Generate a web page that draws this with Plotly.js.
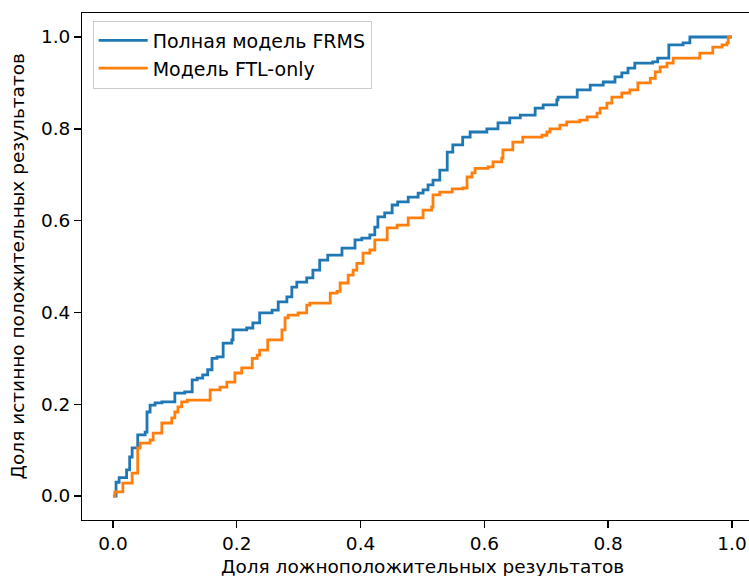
<!DOCTYPE html>
<html>
<head>
<meta charset="utf-8">
<script src="https://cdn.plot.ly/plotly-3.0.1.min.js"></script>
<style>html,body{margin:0;padding:0;background:#fff;overflow:hidden}</style>
</head>
<body>
<div id="chart" style="width:749px;height:576px"></div>
<script>
// ROC curve, full FRMS model (top of each vertical rise)
const fprFull = [0.000,0.005,0.010,0.022,0.027,0.031,0.040,0.052,0.055,0.060,0.068,0.079,0.100,0.116,0.128,0.136,0.145,0.153,
  0.160,0.168,0.178,0.192,0.194,0.216,0.226,0.237,0.257,0.267,0.281,0.289,0.297,0.313,0.323,
  0.334,0.347,0.370,0.391,0.402,0.415,0.423,0.428,0.439,0.451,0.460,0.477,0.493,0.501,0.509,0.517,
  0.528,0.540,0.549,0.565,0.577,0.604,0.622,0.641,0.658,0.682,0.695,0.717,0.719,0.750,0.771,0.792,
  0.811,0.822,0.832,0.843,0.872,0.880,0.898,0.921,0.932,1.000];
const tprFull = [0.000,0.030,0.040,0.057,0.085,0.105,0.133,0.139,0.183,0.198,0.203,0.205,0.224,0.227,0.253,0.257,0.264,0.275,
  0.300,0.303,0.333,0.340,0.362,0.366,0.377,0.399,0.405,0.423,0.434,0.455,0.466,0.475,0.492,
  0.514,0.525,0.540,0.558,0.562,0.569,0.586,0.608,0.617,0.634,0.641,0.651,0.660,0.667,0.678,0.688,
  0.710,0.749,0.765,0.782,0.793,0.800,0.813,0.824,0.830,0.845,0.852,0.863,0.869,0.885,0.895,0.902,
  0.913,0.922,0.932,0.943,0.946,0.954,0.983,0.987,1.000,1.000];

// ROC curve, FTL-only model
const fprFtl = [0.000,0.003,0.016,0.031,0.040,0.044,0.060,0.065,0.079,0.095,0.100,0.105,0.111,0.120,0.157,0.173,0.184,0.197,
  0.208,0.225,0.233,0.237,0.250,0.273,0.278,0.283,0.299,0.313,0.318,0.351,0.362,0.367,0.380,0.388,0.394,
  0.404,0.415,0.423,0.443,0.459,0.477,0.501,0.515,0.517,0.528,0.548,0.565,0.572,0.580,0.585,0.606,0.614,
  0.628,0.630,0.646,0.662,0.693,0.701,0.706,0.722,0.733,0.754,0.766,0.782,0.787,0.798,0.806,0.822,0.835,
  0.848,0.868,0.876,0.884,0.895,0.905,0.948,0.969,0.984,0.992,0.994,1.000];
const tprFtl = [0.000,0.009,0.028,0.050,0.105,0.115,0.122,0.137,0.159,0.170,0.183,0.194,0.205,0.209,0.231,0.237,0.248,0.268,
  0.279,0.300,0.307,0.318,0.340,0.362,0.388,0.394,0.399,0.416,0.420,0.442,0.446,0.464,0.481,0.492,0.507,
  0.529,0.536,0.558,0.584,0.590,0.606,0.623,0.630,0.656,0.662,0.669,0.671,0.695,0.704,0.714,0.717,0.728,
  0.736,0.754,0.771,0.782,0.786,0.793,0.800,0.808,0.815,0.819,0.826,0.834,0.845,0.856,0.869,0.878,0.885,
  0.900,0.910,0.924,0.935,0.943,0.954,0.965,0.978,0.983,0.987,1.000,1.000];

const seriesNames = ["Полная модель FRMS", "Модель FTL-only"];
const tickVals = [0, 0.2, 0.4, 0.6, 0.8, 1.0];
const tickText = ["0.0", "0.2", "0.4", "0.6", "0.8", "1.0"];
const xTitle = "Доля ложноположительных результатов";
const yTitle = "Доля истинно положительных результатов";

const FONT = "DejaVu Sans, sans-serif";
const FS = 18.5;

const traces = [
  {x: fprFull, y: tprFull, name: seriesNames[0], mode: "lines", line: {color: "#1f77b4", width: 2.8, shape: "hv"}},
  {x: fprFtl, y: tprFtl, name: seriesNames[1], mode: "lines", line: {color: "#ff7f0e", width: 2.8, shape: "hv"}}
];

const axisCommon = {
  showgrid: false, zeroline: false, showline: true, linecolor: "#000", linewidth: 1.4,
  ticks: "outside", ticklen: 6.5, tickwidth: 1.4, tickcolor: "#000",
  tickvals: tickVals, ticktext: tickText, tickfont: {family: FONT, size: FS, color: "#000"}
};

const layout = {
  width: 749, height: 576,
  margin: {l: 82, r: 0, t: 13, b: 56},
  paper_bgcolor: "#fff", plot_bgcolor: "#fff",
  font: {family: FONT, size: FS, color: "#000"},
  showlegend: true,
  legend: {x: 0.016, y: 0.985, xanchor: "left", yanchor: "top",
    bgcolor: "rgba(255,255,255,0.8)", bordercolor: "#cccccc", borderwidth: 1,
    font: {family: FONT, size: 19, color: "#000"}, itemwidth: 49, tracegroupgap: 0},
  xaxis: Object.assign({}, axisCommon, {range: [-0.05, 1.0275], mirror: true, ticklabelstandoff: 0}),
  yaxis: Object.assign({}, axisCommon, {range: [-0.0523, 1.0523], mirror: false}),
  annotations: [
    {text: xTitle, xref: "paper", yref: "paper", x: 0.51, y: -0.092, xanchor: "center", yanchor: "middle",
     showarrow: false, font: {family: FONT, size: FS, color: "#000"}},
    {text: yTitle, xref: "paper", yref: "paper", x: -0.096, y: 0.5, xanchor: "center", yanchor: "middle",
     textangle: -90, showarrow: false, font: {family: FONT, size: FS, color: "#000"}}
  ]
};

Plotly.newPlot("chart", traces, layout, {displayModeBar: false, staticPlot: true});
</script>
</body>
</html>
